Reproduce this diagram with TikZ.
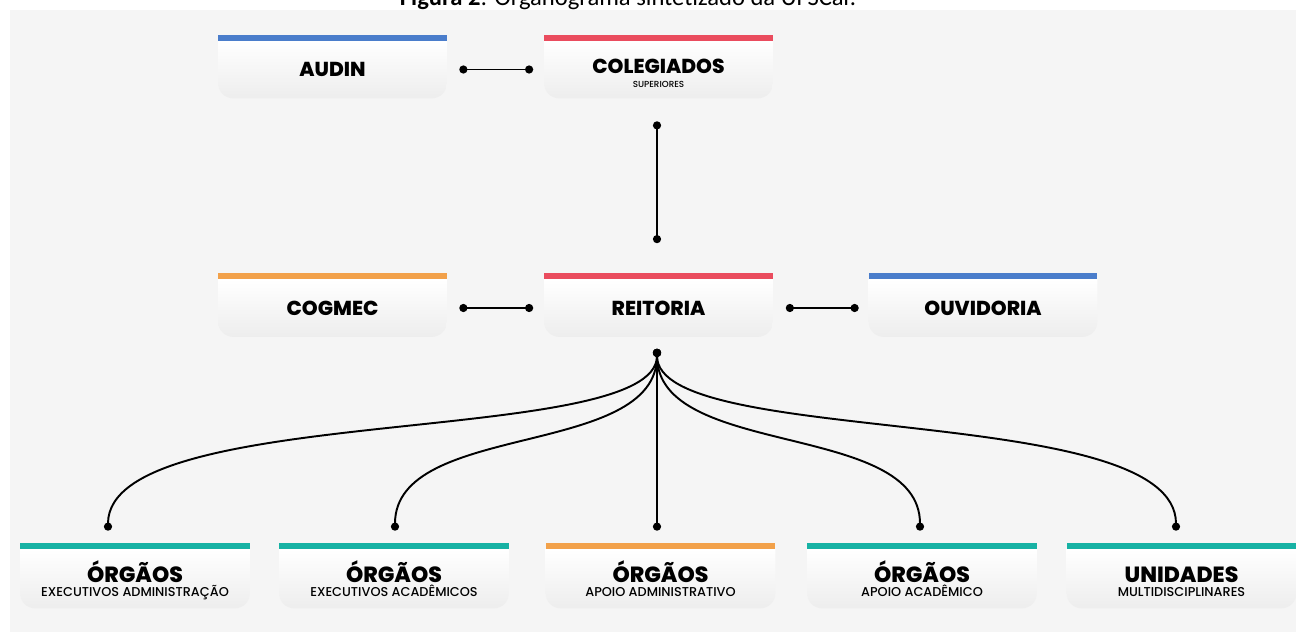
\documentclass[tikz,border=0pt]{standalone}
\usepackage{fontspec}
\usetikzlibrary{arrows.meta,calc,backgrounds}
\setmainfont{Carlito}
\newfontfamily\poppins{Poppins}
\IfFontExistsTF{Poppins ExtraBold}{\newfontfamily\poppinsb{Poppins ExtraBold}}{\def\poppinsb{\poppins\bfseries}}
\IfFontExistsTF{Poppins Medium}{\newfontfamily\poppinsm{Poppins Medium}}{\def\poppinsm{\poppins}}
\definecolor{azul}{HTML}{4A7DCB}
\definecolor{vermelho}{HTML}{EA4C5E}
\definecolor{laranja}{HTML}{F2A14A}
\definecolor{verde}{HTML}{17B2A4}
\definecolor{fundo}{HTML}{F5F5F5}
\newcommand{\tit}[1]{{\poppinsb\fontsize{11.5}{12}\selectfont #1}}
\newcommand{\subt}[1]{{\poppinsm\fontsize{5}{6}\selectfont #1}}
\newcommand{\titb}[1]{{\poppinsb\fontsize{12.5}{13}\selectfont\rule{0pt}{14.5pt}#1}}
\newcommand{\subtb}[1]{{\poppinsm\fontsize{7.3}{8}\selectfont\vphantom{Ç}#1}}

\begin{document}
\begin{tikzpicture}[x=0.02cm,y=-0.02cm,
	caixa/.style={minimum width=4.56cm,minimum height=1.14cm,inner sep=0pt,align=center},
	caixab/.style={caixa,minimum width=4.58cm,minimum height=1.18cm},
	liga/.style={line width=1.1pt,{Circle[length=4.6pt]}-{Circle[length=4.6pt]}}]
	\useasboundingbox (0,0) rectangle (1296,632);
	\clip (0,0) rectangle (1296,632);
	\node[anchor=base,font=\fontsize{14}{16}\selectfont] (legenda) at (628,6) {\textbf{Figura 2}: Organograma sintetizado da UFSCar.};
	
	\node[caixa] (audin) at (332.5,69.5) {\tit{AUDIN}};
	\node[caixa] (coleg) at (658.5,69.5) {\rule{0pt}{12.5pt}\tit{COLEGIADOS}\\[-4.5pt]\subt{SUPERIORES}};
	\node[caixa] (cogmec) at (332.5,308) {\tit{COGMEC}};
	\node[caixa] (reit) at (658.5,308) {\tit{REITORIA}};
	\node[caixa] (ouvid) at (983,308) {\tit{OUVIDORIA}};
	\node[caixab] (exad) at (135,578.5) {\titb{ÓRGÃOS}\\[-4pt]\subtb{EXECUTIVOS ADMINISTRAÇÃO}};
	\node[caixab] (exac) at (394,578.5) {\titb{ÓRGÃOS}\\[-4pt]\subtb{EXECUTIVOS ACADÊMICOS}};
	\node[caixab] (apad) at (660.5,578.5) {\titb{ÓRGÃOS}\\[-4pt]\subtb{APOIO ADMINISTRATIVO}};
	\node[caixab] (apac) at (922,578.5) {\titb{ÓRGÃOS}\\[-4pt]\subtb{APOIO ACADÊMICO}};
	\node[caixab] (unid) at (1181.5,578.5) {\titb{UNIDADES}\\[-4pt]\subtb{MULTIDISCIPLINARES}};
	
	\begin{scope}[on background layer]
	\fill[fundo] (10,10) rectangle (1296,632);
	\foreach \n/\cor in {audin/azul,coleg/vermelho,cogmec/laranja,reit/vermelho,ouvid/azul,exad/verde,exac/verde,apad/laranja,apac/verde,unid/verde}{
		\shade[top color=white,bottom color=gray!14] (\n.north west) -- (\n.north east) -- ([yshift=0.3cm]\n.south east) arc[start angle=0,end angle=-90,radius=0.3cm] -- ([xshift=0.3cm]\n.south west) arc[start angle=270,end angle=180,radius=0.3cm] -- cycle;
		\fill[\cor] (\n.north west) rectangle ($(\n.north east)+(0,-6)$);
	}
	\end{scope}
	
	\draw[liga] ($(audin.east)+(12.5,0)$) -- ($(coleg.west)+(-11,0)$);
	\draw[liga] ($(coleg.south)+(-1.5,23)$) -- ($(reit.north)+(-1.5,-36)$);
	\draw[liga] ($(cogmec.east)+(12.5,0)$) -- ($(reit.west)+(-11,0)$);
	\draw[liga] ($(reit.east)+(13,0)$) -- ($(ouvid.west)+(-10,0)$);
	
	\coordinate (r0) at ($(reit.south)+(-1.5,12)$);
	\coordinate (e1) at ($(exad.north)+(-27,-18)$);
	\coordinate (e2) at ($(exac.north)+(1,-18)$);
	\coordinate (e3) at ($(apad.north)+(-3.5,-18)$);
	\coordinate (e4) at ($(apac.north)+(-2,-18)$);
	\coordinate (e5) at ($(unid.north)+(-5.5,-18)$);
	\draw[liga] (r0) .. controls +(0,100) and +(0,-130) .. (e1);
	\draw[liga] (r0) .. controls +(0,110) and +(0,-110) .. (e2);
	\draw[liga] (r0) -- (e3);
	\draw[liga] (r0) .. controls +(0,110) and +(0,-110) .. (e4);
	\draw[liga] (r0) .. controls +(0,100) and +(0,-130) .. (e5);
\end{tikzpicture}
\end{document}
